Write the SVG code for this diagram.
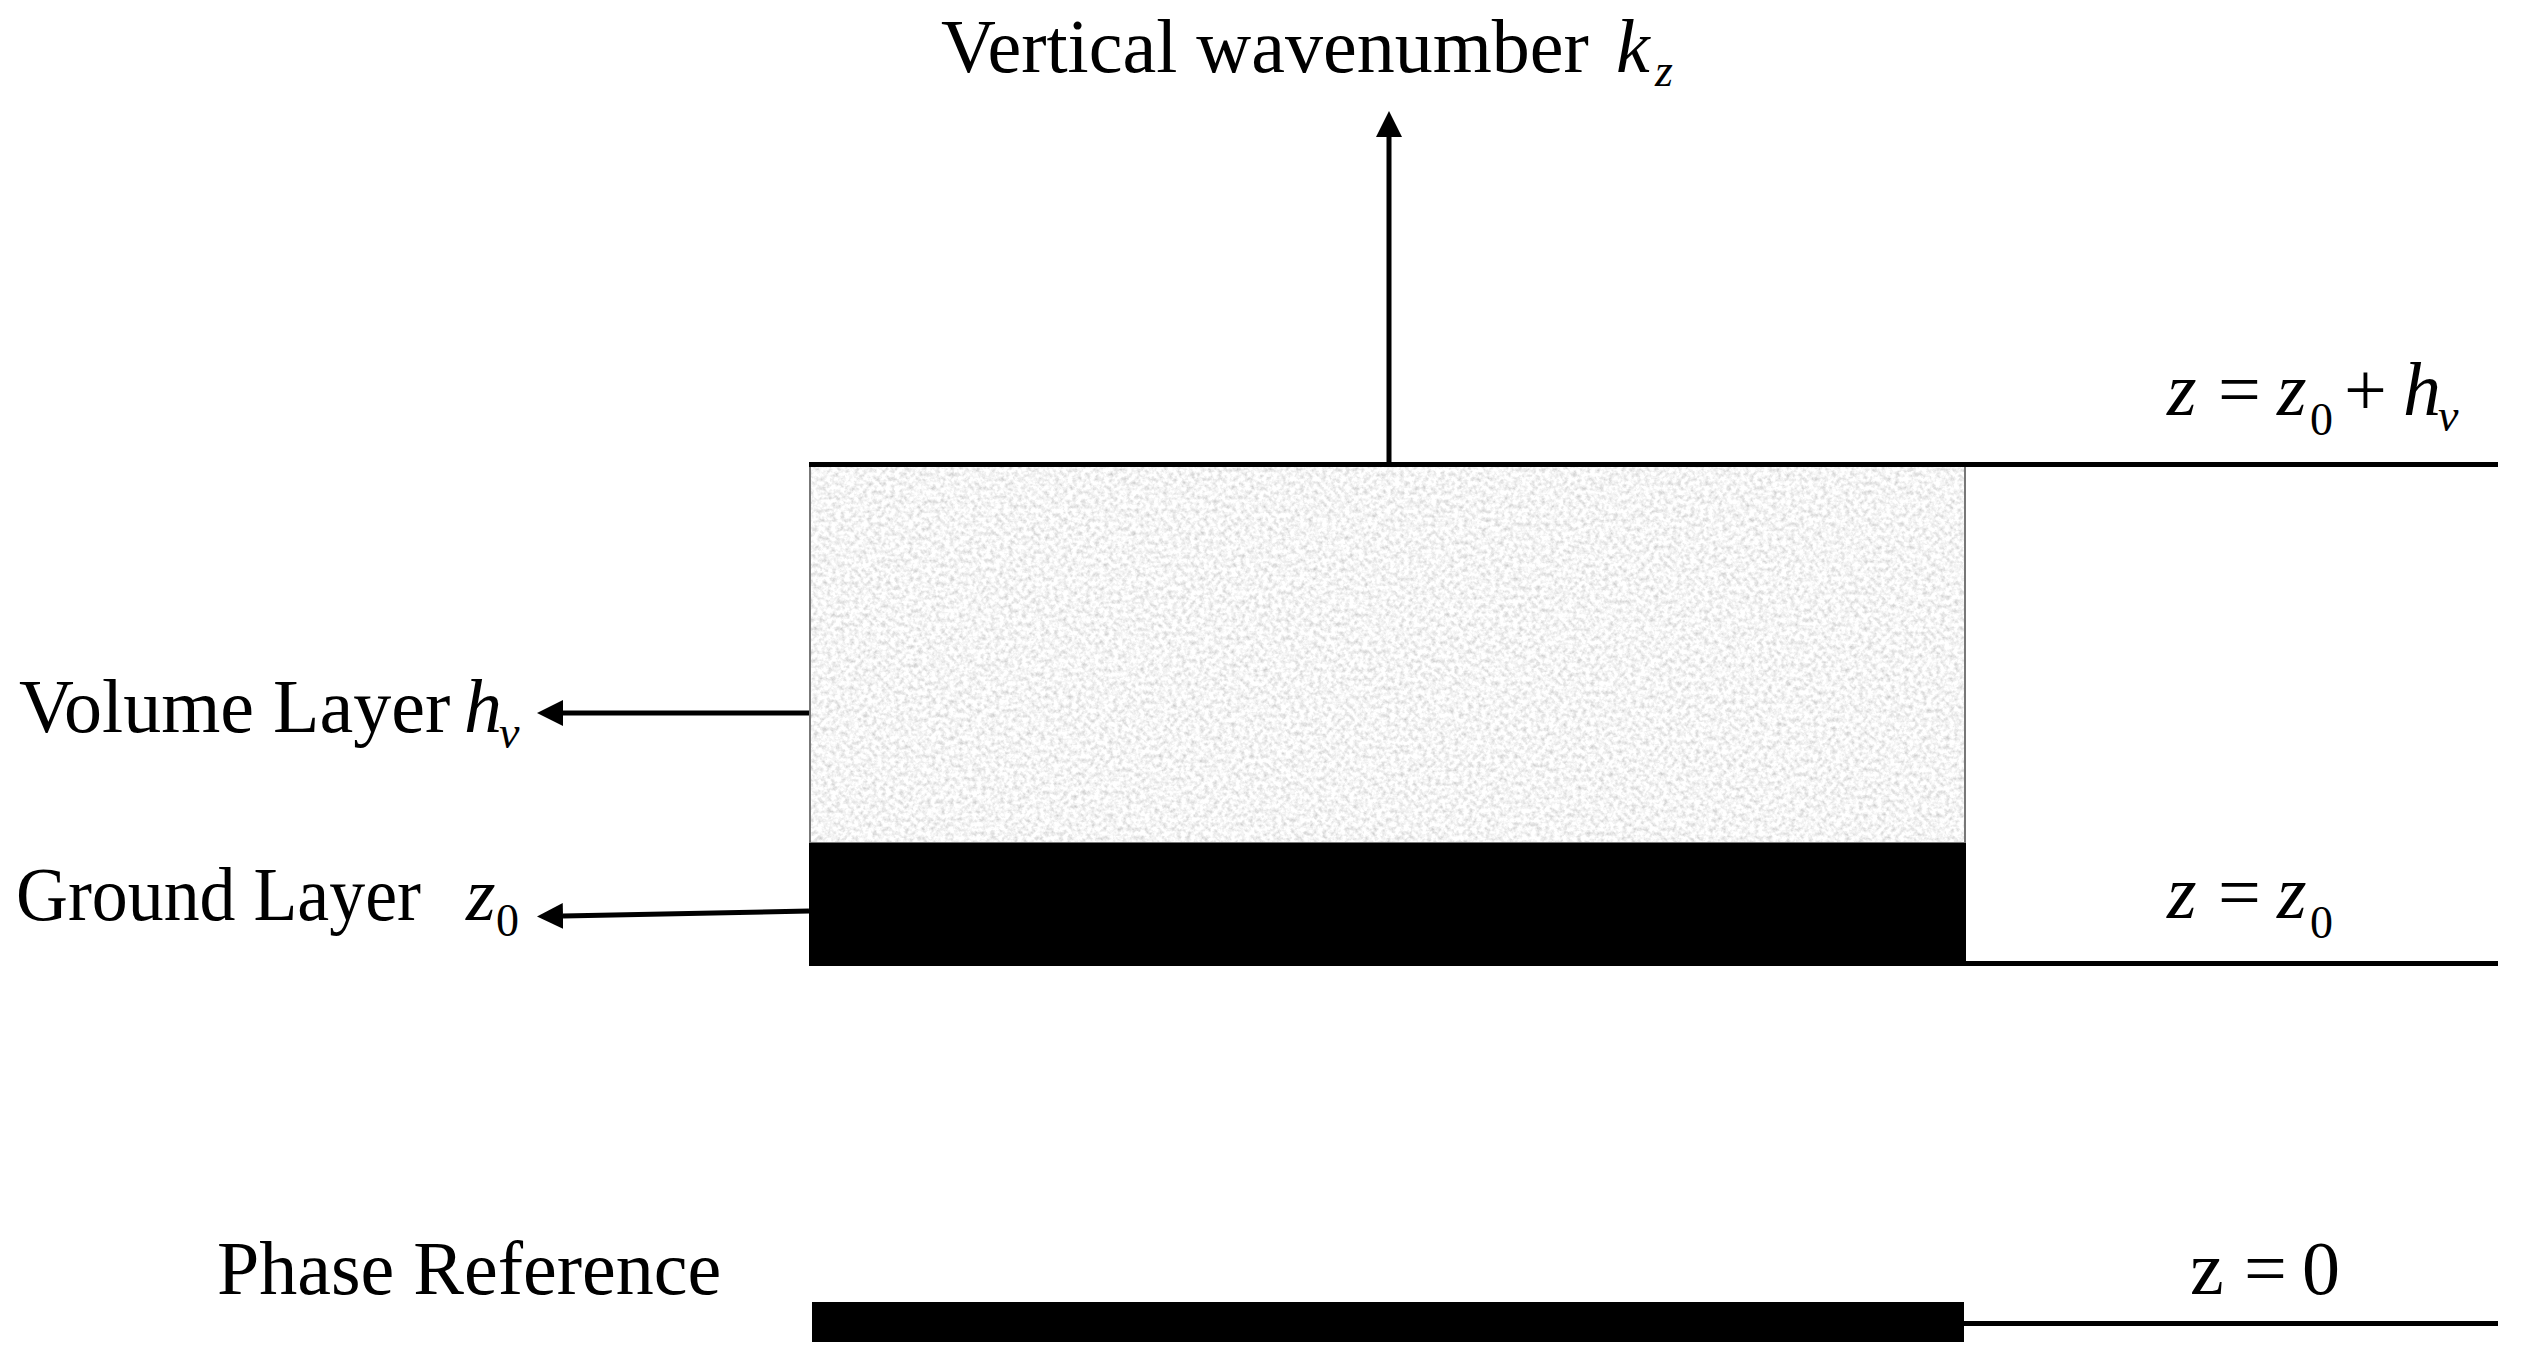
<svg xmlns="http://www.w3.org/2000/svg" width="2521" height="1359" viewBox="0 0 2521 1359">
  <style>
    .t { font-family: "Liberation Serif", "Times New Roman", serif; font-size: 76px; fill: #000; }
    .i { font-style: italic; }
    .sub { font-size: 46px; }
    .ln { stroke: #000; stroke-width: 5; fill: none; }
  </style>
  <defs>
    <marker id="head" viewBox="0 0 26 26" markerWidth="26" markerHeight="26" markerUnits="userSpaceOnUse" refX="0" refY="13" orient="auto">
      <path d="M0,0 L26,13 L0,26 z" fill="#000"/>
    </marker>
    <filter id="grain" x="0" y="0" width="100%" height="100%" filterUnits="objectBoundingBox">
      <feTurbulence type="fractalNoise" baseFrequency="0.22" numOctaves="3" seed="7" result="n"/>
      <feColorMatrix in="n" type="matrix" values="0.75 0 0 0 0.54  0.75 0 0 0 0.54  0.75 0 0 0 0.54  0 0 0 0 1" result="g"/>
      <feComposite in="g" in2="SourceGraphic" operator="in"/>
    </filter>
  </defs>
  <rect width="2521" height="1359" fill="#fff"/>

  <g id="volume-layer">
    <rect x="810" y="464" width="1155" height="379" fill="#e8e8e8" filter="url(#grain)"/>
    <rect x="810" y="464" width="1155" height="379" fill="none" stroke="#777" stroke-width="2"/>
  </g>
  <g id="ground-layer">
    <rect x="809" y="843" width="1157" height="123" fill="#000"/>
  </g>
  <g id="phase-reference">
    <rect x="812" y="1302" width="1152" height="40" fill="#000"/>
  </g>

  <g id="levels">
    <line class="ln" x1="809" y1="464.5" x2="2498" y2="464.5"/>
    <line class="ln" x1="1964" y1="963.5" x2="2498" y2="963.5"/>
    <line class="ln" x1="1964" y1="1323.5" x2="2498" y2="1323.5"/>
  </g>

  <g id="connectors">
    <line class="ln" x1="1389" y1="463" x2="1389" y2="137" marker-end="url(#head)"/>
    <line class="ln" x1="809" y1="713" x2="563" y2="713" marker-end="url(#head)"/>
    <line class="ln" x1="809" y1="911" x2="563" y2="916" marker-end="url(#head)"/>
  </g>

  <g id="title-label">
    <text class="t" x="941" y="72">Vertical wavenumber</text>
    <text class="t i" x="1616" y="72">k</text>
    <text class="t i sub" x="1655" y="86">z</text>
  </g>
  <g id="volume-label">
    <text class="t" x="19" y="732">Volume Layer</text>
    <text class="t i" x="464" y="732">h</text>
    <text class="t i sub" x="499" y="748">v</text>
  </g>
  <g id="ground-label">
    <text class="t" x="16" y="920" textLength="405" lengthAdjust="spacingAndGlyphs">Ground Layer</text>
    <text class="t i" x="466" y="920">z</text>
    <text class="t sub" x="496" y="936">0</text>
  </g>
  <g id="phase-label">
    <text class="t" x="217" y="1294">Phase Reference</text>
  </g>
  <g id="top-level-label">
    <text class="t i" x="2167" y="415">z</text>
    <text class="t" x="2218" y="415">=</text>
    <text class="t i" x="2277" y="415">z</text>
    <text class="t sub" x="2310" y="435">0</text>
    <text class="t" x="2344" y="415">+</text>
    <text class="t i" x="2403" y="415">h</text>
    <text class="t i sub" x="2438" y="431">v</text>
  </g>
  <g id="ground-level-label">
    <text class="t i" x="2167" y="918">z</text>
    <text class="t" x="2218" y="918">=</text>
    <text class="t i" x="2277" y="918">z</text>
    <text class="t sub" x="2310" y="938">0</text>
  </g>
  <g id="zero-level-label">
    <text class="t" x="2190" y="1294">z</text>
    <text class="t" x="2244" y="1294">=</text>
    <text class="t" x="2302" y="1294">0</text>
  </g>
</svg>
